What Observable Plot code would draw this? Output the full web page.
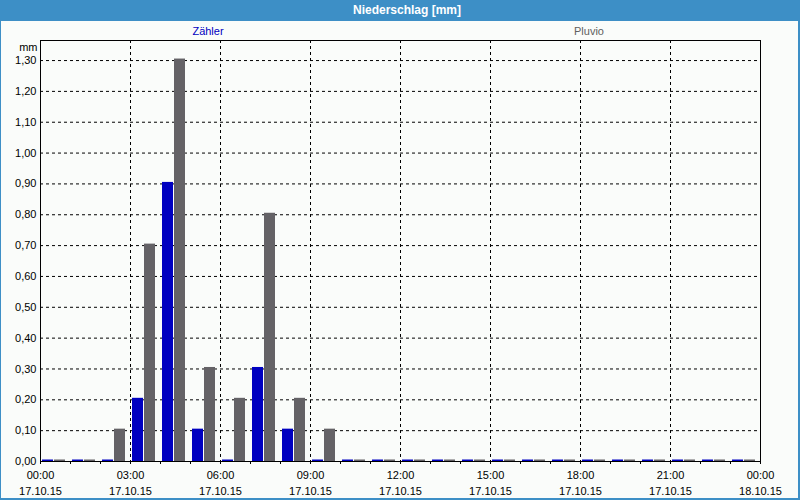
<!DOCTYPE html>
<html>
<head>
<meta charset="utf-8">
<script src="https://cdn.jsdelivr.net/npm/d3@7"></script>
<script src="https://cdn.jsdelivr.net/npm/@observablehq/plot@0.6"></script>
<style>
  html, body { margin: 0; padding: 0; background: #fafcfa; }
  #wrap { position: relative; width: 800px; height: 500px; overflow: hidden; background: #fafcfa;
          font-family: "Liberation Sans", Arial, sans-serif; }
  #title { height: 21px; background: #3d8fc6; color: #fff; font-weight: bold; font-size: 12px;
           line-height: 21px; text-align: center; padding-left: 14px; box-sizing: border-box; }
  #border { position: absolute; left: 0; top: 0; width: 800px; height: 500px; box-sizing: border-box;
            border-left: 1px solid #3d8fc6; border-right: 2px solid #3d8fc6; border-bottom: 2px solid #3d8fc6;
            pointer-events: none; }
  .leg { position: absolute; top: 25px; font-size: 11px; transform: translateX(-50%); white-space: nowrap; }
  #chart svg { display: block; }
</style>
</head>
<body>
<div id="wrap">
  <div id="title">Niederschlag [mm]</div>
  <div id="chart"></div>
  <div class="leg" style="left:208px; color:#0000c0;">Zähler</div>
  <div class="leg" style="left:589px; color:#606060;">Pluvio</div>
  <div id="border"></div>
</div>
<script>
// Hourly buckets (start hour of each interval), 17.10.15 00:00 – 18.10.15 00:00
const hours   = [0,1,2,3,4,5,6,7,8,9,10,11,12,13,14,15,16,17,18,19,20,21,22,23];
const zaehler = [0,0,0,0.20,0.90,0.10,0,0.30,0.10,0,0,0,0,0,0,0,0,0,0,0,0,0,0,0];
const pluvio  = [0,0,0.10,0.70,1.30,0.30,0.20,0.80,0.20,0.10,0,0,0,0,0,0,0,0,0,0,0,0,0,0];
const seriesNames  = ["Zähler", "Pluvio"];
const seriesColors = ["#0000c0", "#646266"];

const xTicks     = [0,3,6,9,12,15,18,21,24];
const xTickTimes = ["00:00","03:00","06:00","09:00","12:00","15:00","18:00","21:00","00:00"];
const xTickDates = ["17.10.15","17.10.15","17.10.15","17.10.15","17.10.15","17.10.15","17.10.15","17.10.15","18.10.15"];
const yTicks     = [0,0.1,0.2,0.3,0.4,0.5,0.6,0.7,0.8,0.9,1.0,1.1,1.2,1.3];
const yMax = 1.365;

const rowsZ = hours.map((h, i) => ({h, v: zaehler[i]}));
const rowsP = hours.map((h, i) => ({h, v: pluvio[i]}));
const hourTicks = hours.concat([24]);

const chart = Plot.plot({
  width: 800,
  height: 479,
  marginTop: 19,
  marginBottom: 39,
  marginLeft: 40,
  marginRight: 40,
  x: {domain: [0, 24]},
  y: {domain: [0, yMax]},
  style: {fontFamily: "Liberation Sans, Arial, sans-serif", fontSize: "11px", background: "#fafcfa", color: "#000", overflow: "visible"},
  marks: [
    Plot.ruleX(xTicks.filter(t => t > 0 && t < 24), {stroke: "#000", strokeDasharray: "3,3", strokeOpacity: 1}),
    Plot.ruleY(yTicks.filter(t => t > 0), {stroke: "#000", strokeDasharray: "3,3", strokeOpacity: 1}),
    Plot.rect(rowsZ, {x1: "h", x2: d => d.h + 1, y1: 0, y2: "v", fill: seriesColors[0], insetLeft: 2, insetRight: 17, insetTop: -1.5}),
    Plot.rect(rowsP, {x1: "h", x2: d => d.h + 1, y1: 0, y2: "v", fill: seriesColors[1], insetLeft: 14, insetRight: 5, insetTop: -1.5}),
    Plot.frame({stroke: "#000"}),
    Plot.axisX(hourTicks, {tickSize: 3, tickFormat: () => "", stroke: "#000", label: null}),
    Plot.axisX(xTicks, {tickSize: 0, tickPadding: 6, lineHeight: 1.45, label: null,
      tickFormat: d => xTickTimes[xTicks.indexOf(d)] + "\n" + xTickDates[xTicks.indexOf(d)]}),
    Plot.axisY(yTicks, {tickSize: 0, tickPadding: 4, label: null, tickFormat: d => d.toFixed(2).replace(".", ",")}),
    Plot.text(["mm"], {frameAnchor: "top-left", textAnchor: "end", dx: -3, dy: 3})
  ]
});
document.getElementById("chart").appendChild(chart);
</script>
</body>
</html>
